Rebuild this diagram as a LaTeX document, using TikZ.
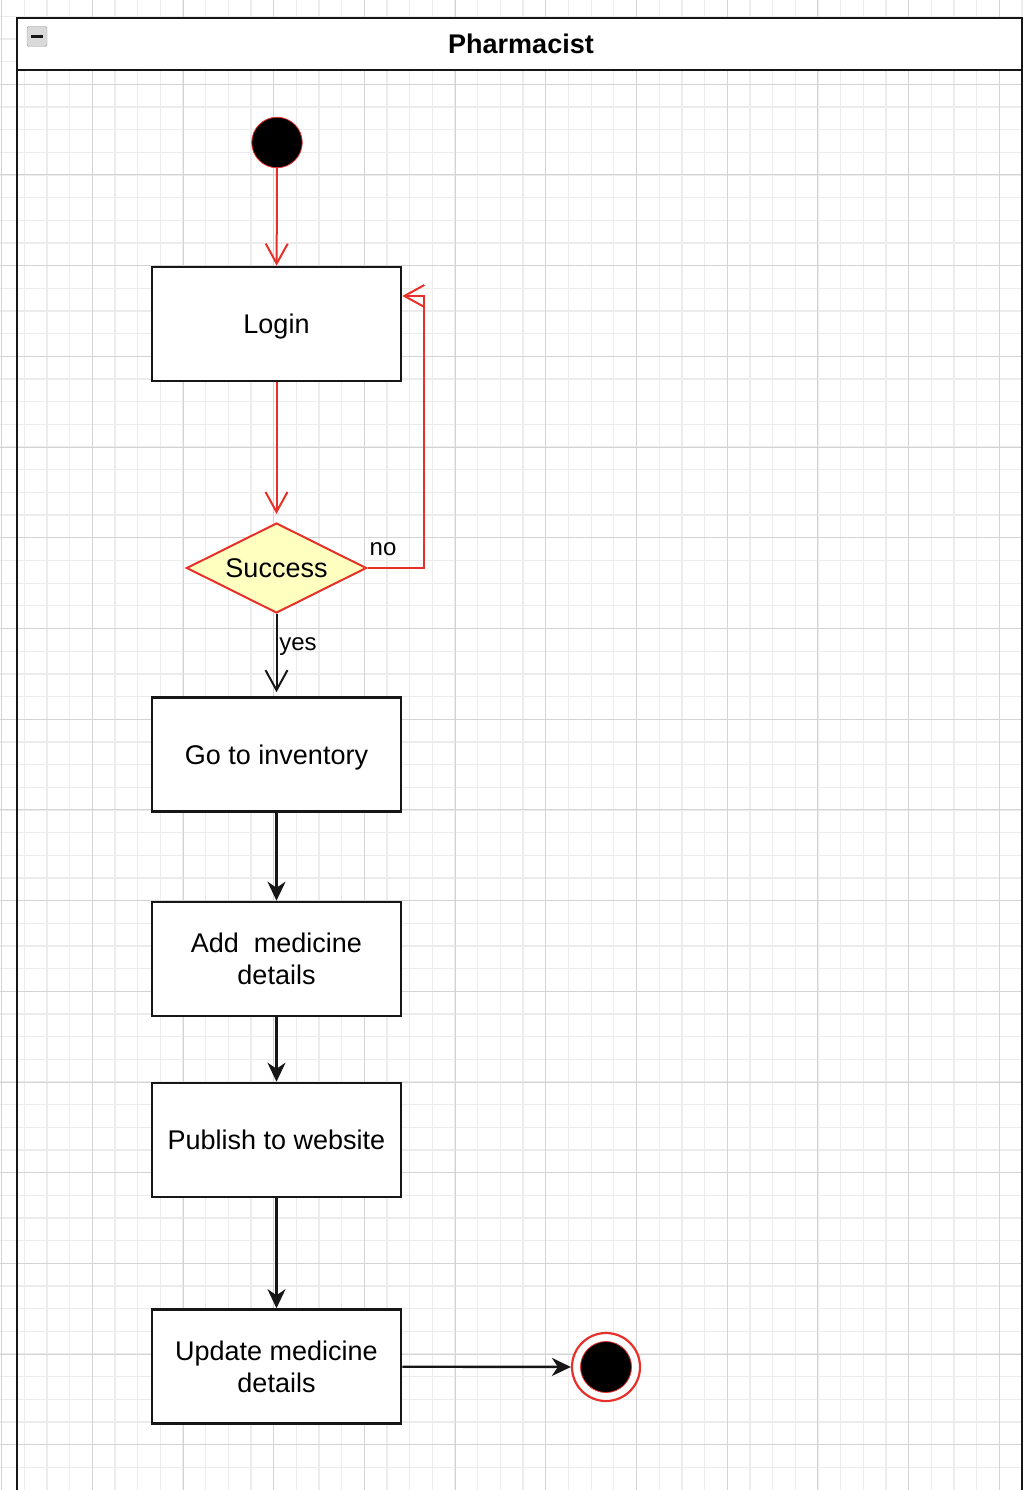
\documentclass[tikz,border=0pt]{standalone}
\usepackage{fontspec}
\setmainfont{Liberation Sans}
\usetikzlibrary{arrows.meta,shapes.geometric}
\definecolor{flowred}{RGB}{232,48,42}
\definecolor{gridminor}{RGB}{236,236,236}
\definecolor{gridmajor}{RGB}{212,212,212}
\definecolor{decision}{RGB}{255,255,192}
\definecolor{ink}{RGB}{22,22,22}

\begin{document}
\begin{tikzpicture}[x=1pt,y=-1pt,
  action/.style={draw=ink,line width=2.6pt,fill=white,minimum width=249pt,
    minimum height=114pt,align=center,inner sep=0pt,text depth=0pt,
    font=\fontsize{27}{32}\selectfont},
  choice/.style={diamond,aspect=2,draw=flowred,line width=2pt,fill=decision,
    minimum width=180pt,minimum height=90pt,inner sep=0pt,
    font=\fontsize{27}{32}\selectfont},
  guard/.style={font=\fontsize{24}{28}\selectfont,inner sep=0pt},
  initial/.style={circle,fill=black,draw=flowred,line width=0.8pt,
    minimum size=50.5pt,inner sep=0pt},
  finalring/.style={circle,fill=white,draw=flowred,line width=2.2pt,
    minimum size=68pt,inner sep=0pt},
  finaldot/.style={circle,fill=black,draw=flowred,line width=0.8pt,
    minimum size=51pt,inner sep=0pt},
  flowarrow/.style={draw=ink,line width=2.4pt,
    -{Stealth[length=19pt,width=18pt,inset=6pt]}},
  redflow/.style={draw=flowred,line width=2pt,
    -{Straight Barb[length=20pt,width=22pt]}},
  guardflow/.style={draw=ink,line width=2pt,
    -{Straight Barb[length=20pt,width=22pt]}}
]
\useasboundingbox (0,0) rectangle (1023,1490);
\clip (0,0) rectangle (1023,1490);

% canvas and grid
\fill[white] (0,0) rectangle (1023,1490);
\foreach \i in {-4,...,41}
  \draw[gridminor,line width=1.3pt] (92.3+22.675*\i,0) -- (92.3+22.675*\i,1490);
\foreach \i in {-3,...,62}
  \draw[gridminor,line width=1.3pt] (0,84.3+22.675*\i) -- (1023,84.3+22.675*\i);
\foreach \i in {-1,...,10}
  \draw[gridmajor,line width=1pt] (92.3+90.7*\i,0) -- (92.3+90.7*\i,1490);
\foreach \i in {-1,...,15}
  \draw[gridmajor,line width=1pt] (0,84.3+90.7*\i) -- (1023,84.3+90.7*\i);

% swimlane
\draw[ink,line width=2.6pt] (17,18) rectangle (1022,1520);
\filldraw[fill=white,draw=ink,line width=2.6pt] (17,18) rectangle (1022,70);
\node[font=\bfseries\fontsize{27}{32}\selectfont,inner sep=0pt] (lane) at (521,44) {Pharmacist};
\node[draw=gray!80,fill=gray!30,rounded corners=1.5pt,minimum size=20pt,inner sep=0pt] (collapse) at (37,36.5) {};
\draw[ink,line width=2.5pt] ([xshift=-6pt]collapse.center) -- ([xshift=6pt]collapse.center);

% states
\node[initial] (start) at (277,142.5) {};
\node[action] (login) at (276.5,324) {Login};
\node[choice] (success) at (276.5,568) {Success};
\node[action] (inventory) at (276.5,754.5) {Go to inventory};
\node[action] (add) at (276.5,959) {Add\ \ medicine\\details};
\node[action] (publish) at (276.5,1140) {Publish to website};
\node[action] (update) at (276.5,1366.5) {Update medicine\\details};
\node[finalring] (finish) at (606,1367) {};
\node[finaldot] (finishdot) at (606,1367) {};

% transitions
\draw[redflow] (start) -- (login);
\draw[redflow,shorten >=8pt] (login) -- (success);
\coordinate (loopturn) at (424,568);
\draw[redflow] (success.east) -- (loopturn) |- ([yshift=28pt]login.east);
\node[guard] (nolabel) at (383,549) {no};
\draw[guardflow,shorten >=4pt] (success) -- (inventory);
\node[guard] (yeslabel) at (298,647) {yes};
\draw[flowarrow] (inventory) -- (add);
\draw[flowarrow] (add) -- (publish);
\draw[flowarrow] (publish) -- (update);
\draw[flowarrow] (update) -- (finish);
\end{tikzpicture}
\end{document}
